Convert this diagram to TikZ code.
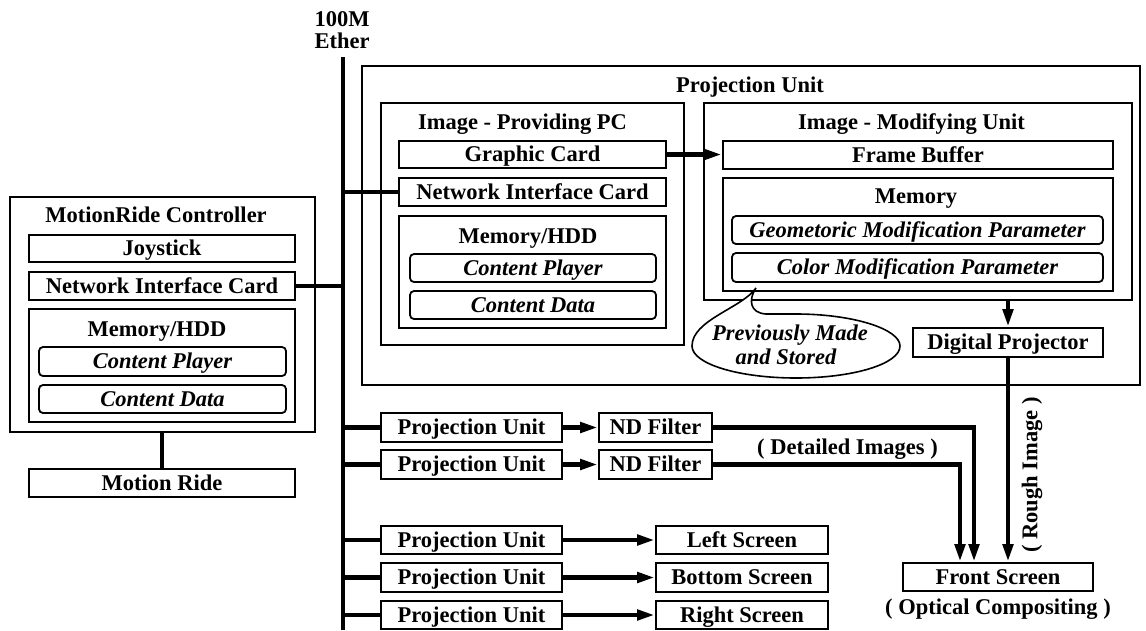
\documentclass[tikz,border=0pt]{standalone}
\usepackage{fontspec}
\setmainfont{Liberation Serif}
\usetikzlibrary{arrows.meta}
\newcommand\mybox[7][]{%
  \pgfmathsetmacro\bxw{#5-#3}\pgfmathsetmacro\bxh{#6-#4}%
  \node[box,#1,minimum width=\bxw pt,minimum height=\bxh pt] (#2) at ({(#3+#5)/2},{(#4+#6)/2}) {#7};}
\begin{document}
\begin{tikzpicture}[x=1pt,y=-1pt,
  every node/.style={font=\fontsize{22.5}{26}\selectfont\bfseries},
  txt/.style={inner sep=0pt,text height=14.9pt,text depth=0pt},
  box/.style={draw,line width=1.8pt,inner sep=0pt,text height=14.9pt,text depth=0pt},
  rounded/.style={rounded corners=4pt},
  conn/.style={line width=4.5pt},
  arr/.style={conn,-{Triangle[length=18pt,width=10pt]}},
  bubble/.style={draw,line width=1.6pt,fill=white}]
\useasboundingbox (0,0) rectangle (1146,630);

% Ethernet bus
\node[txt] (ethA) at (342,19.5) {100M};
\node[txt] (ethB) at (342,41.5) {Ether};
\coordinate (bustop) at (343,57);
\coordinate (busbot) at (343,630);

% Projection unit (detailed)
\mybox{pu}{362}{66}{1140}{385}{}
\node[txt] (putitle) at (750,85) {Projection Unit};
\mybox{ipc}{381}{103}{684}{345}{}
\node[txt] (ipct) at (522.5,122) {Image - Providing PC};
\mybox{gc}{399}{141}{666}{168}{Graphic Card}
\mybox{nicA}{399}{178}{666}{206}{Network Interface Card}
\mybox{memA}{399}{216}{666}{328}{}
\node[txt] (memAt) at (528,236) {Memory/HDD};
\mybox[rounded]{cpA}{410}{254}{656}{282}{\itshape Content Player}
\mybox[rounded]{cdA}{410}{291}{656}{319}{\itshape Content Data}

\mybox{imu}{704}{103}{1132}{300}{}
\node[txt] (imut) at (911.5,122) {Image - Modifying Unit};
\mybox{fb}{723}{141}{1113}{169}{Frame Buffer}
\mybox{memB}{723}{178}{1113}{291}{}
\node[txt] (memBt) at (916,196) {Memory};
\mybox[rounded]{geo}{732}{216}{1103}{244}{\itshape Geometoric Modification Parameter}
\mybox[rounded]{col}{732}{253}{1103}{282}{\itshape Color Modification Parameter}
\mybox{dp}{913}{328}{1103}{357}{Digital Projector}

% speech bubble
\draw[bubble] (756,288) .. controls (742,308) and (692,320) .. (692,346)
  .. controls (692,364) and (739,378) .. (796,378)
  .. controls (853,378) and (900,364) .. (900,346)
  .. controls (900,329) and (853,314) .. (796,314)
  -- (766,314) .. controls (750,313) and (748,300) .. cycle;
\node[txt] (bubA) at (790,333.5) {\itshape Previously Made};
\node[txt] (bubB) at (786,357) {\itshape and Stored};

% MotionRide controller
\mybox{mrc}{10}{197}{315}{432}{}
\node[txt] (mrct) at (156,215.5) {MotionRide Controller};
\mybox{joy}{29}{235}{295}{262}{Joystick}
\mybox{nicB}{29}{272}{295}{300}{Network Interface Card}
\mybox{memC}{29}{309}{295}{422}{}
\node[txt] (memCt) at (157,329) {Memory/HDD};
\mybox[rounded]{cpC}{39}{347}{286}{376}{\itshape Content Player}
\mybox[rounded]{cdC}{39}{385}{286}{413}{\itshape Content Data}
\mybox{mr}{29}{469}{295}{497}{Motion Ride}

% other projection units
\mybox{puA}{381}{413}{562}{442}{Projection Unit}
\mybox{puB}{381}{450}{562}{479}{Projection Unit}
\mybox{puC}{381}{526}{562}{554}{Projection Unit}
\mybox{puD}{381}{563}{562}{592}{Projection Unit}
\mybox{puE}{381}{601}{562}{629}{Projection Unit}
\mybox{ndA}{599}{413}{712}{442}{ND Filter}
\mybox{ndB}{599}{450}{712}{479}{ND Filter}
\mybox{ls}{656}{526}{828}{554}{Left Screen}
\mybox{bs}{656}{563}{828}{592}{Bottom Screen}
\mybox{rs}{656}{601}{828}{629}{Right Screen}
\mybox{fs}{903}{563}{1093}{591}{Front Screen}
\node[txt] (optc) at (998,607) {( Optical Compositing )};
\node[txt] (det) at (847.5,447.5) {( Detailed Images )};
\node[txt,rotate=90] (rough) at (1030,475) {( Rough Image )};

% connectors
\draw[conn] (bustop) -- (busbot);
\draw[conn] (bustop |- nicA) -- (nicA.west);
\draw[conn] (nicB.east) -- (bustop |- nicB);
\draw[conn] (mrc.south -| mr.north) -- (mr.north);
\foreach \n in {puA,puB,puC,puD,puE} \draw[conn] (bustop |- \n) -- (\n.west);
\draw[arr] (gc.east) -- (fb.west |- gc.east);
\draw[arr] (dp.north |- imu.south) -- (dp.north);
\draw[arr] (dp.south) -- (dp.south |- fs.north);
\draw[arr] (puA.east) -- (ndA.west);
\draw[arr] (puB.east) -- (ndB.west);
\draw[arr] (puC.east) -- (ls.west);
\draw[arr] (puD.east) -- (bs.west);
\draw[arr] (puE.east) -- (rs.west);
\draw[arr] (ndA.east) -| ([xshift=-24pt]fs.north);
\draw[arr] (ndB.east) -| ([xshift=-38pt]fs.north);
\end{tikzpicture}
\end{document}
